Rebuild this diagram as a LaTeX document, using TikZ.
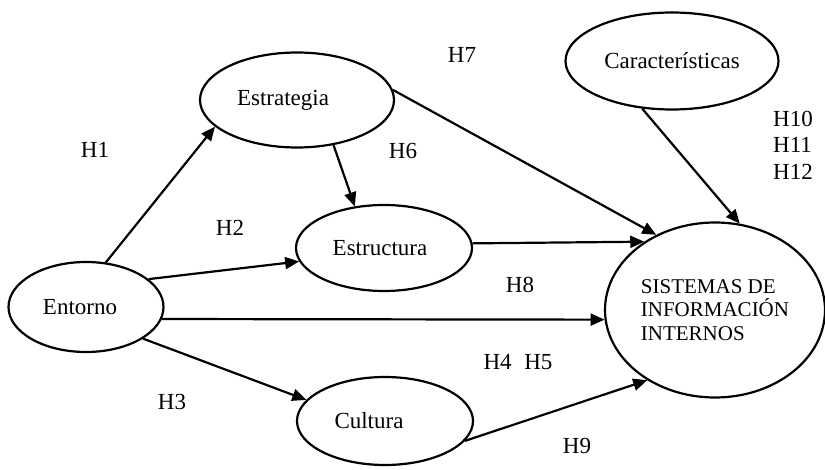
\documentclass[tikz,border=0pt]{standalone}
\usepackage{fontspec}
\setmainfont{Liberation Serif}
\usetikzlibrary{shapes.geometric,arrows.meta}
\begin{document}
\begin{tikzpicture}[x=0.5pt,y=-0.5pt,
  construct/.style={draw,ellipse,line width=1.1pt,inner sep=0pt,
    font=\fontsize{11.5}{13}\selectfont},
  link/.style={line width=1.1pt,-{Triangle[length=7pt,width=6pt]}},
  hyp/.style={font=\fontsize{11.5}{13}\selectfont,inner sep=0pt}]
\useasboundingbox (0,0) rectangle (825,470);

% constructs of the model (a trailing kern sets each name a little left of centre)
\node[construct,minimum width=77.5pt,minimum height=45pt] (entorno) at (86,307) {Entorno\kern6pt};
\node[construct,minimum width=97pt,minimum height=47.5pt] (estrategia) at (297,100) {Estrategia\kern14pt};
\node[construct,minimum width=88pt,minimum height=43pt] (estructura) at (384,248) {Estructura\kern4pt};
\node[construct,minimum width=88pt,minimum height=44pt] (cultura) at (385,421) {Cultura\kern16pt};
\node[construct,minimum width=106.5pt,minimum height=48.5pt] (caract) at (672,61) {Características};
\node[construct,minimum width=110pt,minimum height=87.5pt,align=left,
  font=\fontsize{10.5}{11.8}\selectfont] (sistemas) at (715,310)
  {SISTEMAS DE\\INFORMACIÓN\\INTERNOS};

% hypothesised relationships
\draw[link] (entorno.66.6) -- (estrategia.198);
\draw[link] (entorno.24.6) -- (estructura.189);
\draw[link] (entorno.-9.6) -- (sistemas.185.2);
\draw[link] (entorno.-29.2) -- (cultura.165);
\draw[link] (estrategia.-51) -- (estructura.125.2);
\draw[link] (estrategia.6) -- (sistemas.128.2);
\draw[link] (estructura.3.3) -- (sistemas.136.3);
\draw[link] (cultura.-14) -- (sistemas.226.9);
\draw[link] (caract.238.3) -- (sistemas.74.1);

% hypothesis labels
\node[hyp] (h1) at (95,150) {H1};
\node[hyp] (h2) at (230,228) {H2};
\node[hyp] (h3) at (172,402) {H3};
\node[hyp] (h45) at (518,362) {H4\hspace{0.55em}H5};
\node[hyp] (h6) at (403,151) {H6};
\node[hyp] (h7) at (462,55) {H7};
\node[hyp] (h8) at (520,285) {H8};
\node[hyp] (h9) at (577,446) {H9};
\node[hyp,align=left,font=\fontsize{11.5}{13.2}\selectfont] (h10) at (793,145) {H10\\H11\\H12};
\end{tikzpicture}
\end{document}
